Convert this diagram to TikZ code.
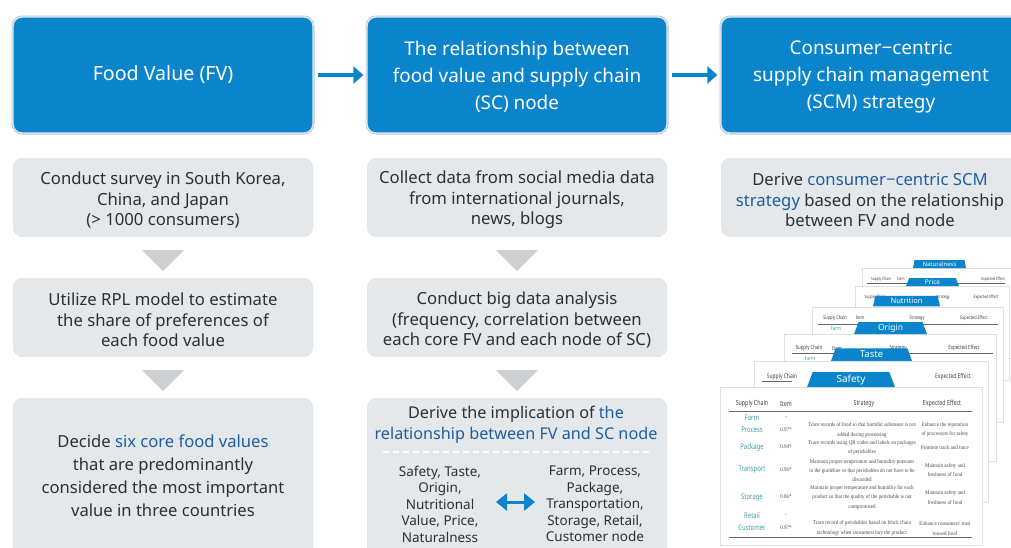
\documentclass[tikz,border=0pt]{standalone}
\usepackage{fontspec}
\setmainfont{Noto Sans}
\newfontfamily\tabserif[FakeStretch=0.88]{Liberation Serif}
\newfontfamily\cond[FakeStretch=0.76]{Noto Sans}
\usetikzlibrary{shapes.geometric,shadows,arrows.meta}
\definecolor{hblue}{HTML}{0A85CB}
\definecolor{hring}{HTML}{DCECF6}
\definecolor{hshade}{HTML}{C4C8CC}
\definecolor{gbox}{HTML}{E4E8EB}
\definecolor{tricol}{HTML}{CDD0D3}
\definecolor{ink}{HTML}{2F2F2F}
\definecolor{lnk}{HTML}{1F5E9E}
\definecolor{teal}{HTML}{3F9CAE}
\newcommand{\hl}[1]{\textcolor{lnk}{#1}}
\tikzset{
  x=1pt,y=-1pt,
  headbox/.style={rectangle,rounded corners=9pt,fill=hblue,draw=hring,line width=1.3pt,
    preaction={draw=hshade,line width=3pt},minimum width=300pt,minimum height=116pt,inner sep=0pt},
  headtext/.style={inner sep=0pt,text=white,align=center,font=\fontsize{18.9}{27}\selectfont},
  graybox/.style={rectangle,rounded corners=9pt,fill=gbox,minimum width=300pt,inner sep=0pt},
  graytext/.style={inner sep=0pt,text=ink,align=center,font=\fontsize{16.7}{20.6}\selectfont},
  flow/.style={draw=hblue,line width=3.4pt,-{Triangle[length=10pt,width=17pt]}},
  twoway/.style={draw=hblue,line width=3pt,{Triangle[length=11pt,width=17pt]}-{Triangle[length=11pt,width=17pt]}},
  tri/.style={fill=tricol},
  small/.style={text=ink,align=center,inner sep=0pt,font=\fontsize{13.5}{16.5}\selectfont},
  card/.style={rectangle,fill=white,draw=black!12,line width=.3pt,inner sep=0pt,
    drop shadow={shadow xshift=1.2pt,shadow yshift=-1.2pt,fill=black,opacity=.6}},
  tabn/.style={trapezium,trapezium left angle=78,trapezium right angle=78,trapezium stretches=true,
    fill=hblue,text=white,inner sep=0pt,outer sep=0pt},
  hdr/.style={inner sep=0pt,text=black!75,font=\cond\fontsize{#1}{#1}\selectfont},
  hdr/.default=7,
  chain/.style={inner sep=0pt,text=teal,font=\cond\fontsize{#1}{#1}\selectfont},
  chain/.default=7.8,
  cell/.style={inner sep=0pt,align=center,text=black!70,font=\tabserif\fontsize{5.7}{9.2}\selectfont},
  rulel/.style={draw=black!60,line width=.35pt},
}
\begin{document}
\begin{tikzpicture}
\clip (0,0) rectangle (1011,547);
\fill[white] (0,0) rectangle (1011,547);

% headers
\node[headbox] (h1) at (163,75) {};
\node[headbox] (h2) at (517,75) {};
\node[headbox] (h3) at (871,75) {};
\node[headtext,font=\fontsize{19.6}{27}\selectfont] (h1t) at (163,75) {Food Value (FV)};
\node[headtext] (h2t) at (517,77) {The relationship between\\food value and supply chain\\(SC) node};
\node[headtext] (h3t) at (871,77) {Consumer−centric\\supply chain management\\(SCM) strategy};
\draw[flow,shorten <=4pt,shorten >=3pt] (h1) -- (h2);
\draw[flow,shorten <=4pt,shorten >=3pt] (h2) -- (h3);

% left column
\node[graybox,minimum height=79pt] (a1) at (163,197.5) {};
\node[graytext] (a1t) at (163,200) {Conduct survey in South Korea,\\China, and Japan\\(> 1000 consumers)};
\node[graybox,minimum height=79pt] (a2) at (163,317.5) {};
\node[graytext] (a2t) at (163,320) {Utilize RPL model to estimate\\the share of preferences of\\each food value};
\node[graybox,minimum height=162pt] (a3) at (163,479) {};
\node[graytext,font=\fontsize{16.6}{23}\selectfont] (a3t) at (163,476) {Decide \hl{six core food values}\\that are predominantly\\considered the most important\\value in three countries};
\fill[tri] (142,250) -- (184,250) -- (163,271) -- cycle;
\fill[tri] (142,370) -- (184,370) -- (163,391) -- cycle;

% middle column
\node[graybox,minimum height=79pt] (b1) at (517,197.5) {};
\node[graytext] (b1t) at (517,200) {Collect data from social media data\\from international journals,\\news, blogs};
\node[graybox,minimum height=79pt] (b2) at (517,317.5) {};
\node[graytext] (b2t) at (517,320) {Conduct big data analysis\\(frequency, correlation between\\each core FV and each node of SC)};
\node[graybox,minimum height=162pt] (b3) at (517,479) {};
\node[graytext,font=\fontsize{16.2}{20.5}\selectfont] (b3t) at (516,424.5) {Derive the implication of \hl{the}\\\hl{relationship between FV and SC node}};
\fill[tri] (496,250) -- (538,250) -- (517,271) -- cycle;
\fill[tri] (496,370) -- (538,370) -- (517,391) -- cycle;
\coordinate (dl) at (383,452);
\coordinate (dr) at (651,452);
\draw[white,line width=1.2pt,dash pattern=on 6pt off 4pt] (dl) -- (dr);
\node[small] (fv) at (440,504) {Safety, Taste,\\Origin,\\Nutritional\\Value, Price,\\Naturalness};
\node[small] (sc) at (595,504) {Farm, Process,\\Package,\\Transportation,\\Storage, Retail,\\Customer node};
\coordinate (ta) at (496,502); \coordinate (tb) at (535,502);
\draw[twoway] (ta) -- (tb);

% right column
\node[graybox,minimum height=79pt] (c1) at (871,197.5) {};
\node[graytext] (c1t) at (870,200) {Derive \hl{consumer−centric SCM}\\\hl{strategy} based on the relationship\\between FV and node};

% cards, back to front
\node[card,minimum width=160pt,minimum height=90pt] (k6) at (942,313) {};
\node[tabn,minimum width=53pt,minimum height=8pt,font=\fontsize{6}{6}\selectfont] (t6) at (939.5,264) {Naturalness};
\node[hdr=4.3] (k6a) at (881,279) {Supply Chain};
\node[hdr=4.3] (k6b) at (901,279) {Item};
\node[hdr=4.3] (k6c) at (993,279) {Expected Effect};
\coordinate (k6l) at (867,283); \coordinate (k6r) at (1005,283);
\draw[rulel] (k6l) -- (k6r);

\node[card,minimum width=154pt,minimum height=94pt] (k5) at (932,333) {};
\node[tabn,minimum width=53pt,minimum height=8pt,font=\fontsize{6.5}{6.5}\selectfont] (t5) at (932.5,282) {Price};
\node[hdr=4.5] (k5a) at (875,297) {Supply Chain};
\node[hdr=4.5] (k5b) at (943,297) {Strategy};
\node[hdr=4.5] (k5c) at (986,297) {Expected Effect};

\node[card,minimum width=191pt,minimum height=115pt] (k4) at (907.5,364.5) {};
\node[tabn,minimum width=67pt,minimum height=10.5pt,font=\fontsize{7.5}{7.5}\selectfont] (t4) at (906.5,301) {Nutrition};
\node[hdr=5] (k4a) at (835,318) {Supply Chain};
\node[hdr=5] (k4b) at (860,318) {Item};
\node[hdr=5] (k4c) at (917,318) {Strategy};
\node[hdr=5] (k4d) at (974,318) {Expected Effect};
\coordinate (k4l) at (818,324); \coordinate (k4r) at (998,324);
\draw[rulel] (k4l) -- (k4r);
\node[chain=5.5] (k4e) at (836,329) {Farm};

\node[card,minimum width=212pt,minimum height=127pt] (k3) at (890,397.5) {};
\node[tabn,minimum width=73pt,minimum height=12pt,font=\fontsize{8.5}{8.5}\selectfont] (t3) at (890.5,328) {Origin};
\node[hdr=5.7] (k3a) at (809,348) {Supply Chain};
\node[hdr=5.7] (k3b) at (837,348) {Item};
\node[hdr=5.7] (k3c) at (898,348) {Strategy};
\node[hdr=5.7] (k3d) at (964,348) {Expected Effect};
\coordinate (k3l) at (792,353); \coordinate (k3r) at (993,353);
\draw[rulel] (k3l) -- (k3r);
\node[chain=5.5] (k3e) at (810,359) {Farm};

\node[card,minimum width=234pt,minimum height=141pt] (k2) at (871,431.5) {};
\node[tabn,minimum width=81pt,minimum height=12.5pt,font=\fontsize{9.5}{9.5}\selectfont] (t2) at (871.5,354.5) {Taste};
\node[hdr=6.5] (k2a) at (782,377) {Supply Chain};
\node[hdr=6.5] (k2b) at (953,377) {Expected Effect};
\coordinate (k2l) at (762,381); \coordinate (k2r) at (792,381);
\draw[rulel] (k2l) -- (k2r);

\node[card,minimum width=262pt,minimum height=158pt] (k1) at (851,466) {};
\node[tabn,minimum width=88pt,minimum height=15pt,font=\fontsize{10}{10}\selectfont] (t1) at (851,379.5) {Safety};
\node[hdr] (r0a) at (752,404) {Supply Chain};
\node[hdr] (r0b) at (786,404) {Item};
\node[hdr] (r0c) at (864,404) {Strategy};
\node[hdr] (r0d) at (942,404) {Expected Effect};
\coordinate (k1l) at (729,411); \coordinate (k1r) at (972,411);
\draw[rulel] (k1l) -- (k1r);
\coordinate (k1bl) at (729,537); \coordinate (k1br) at (972,537);
\draw[rulel,line width=.6pt] (k1bl) -- (k1br);
\node[chain] (r1) at (752,418) {Farm};
\node[chain] (r2) at (752,430) {Process};
\node[chain] (r3) at (752,447) {Package};
\node[chain] (r4) at (752,470) {Transport};
\node[chain] (r5) at (752,498) {Storage};
\node[chain] (r6) at (752,516) {Retail};
\node[chain] (r7) at (752,528) {Customer};
\node[cell] (i1) at (786,418) {-};
\node[cell] (i2) at (786,430) {0.97*};
\node[cell] (i3) at (786,447) {0.94*};
\node[cell] (i4) at (786,470) {0.96*};
\node[cell] (i5) at (786,497) {0.86*};
\node[cell] (i6) at (786,516) {-};
\node[cell] (i7) at (786,528) {0.97*};
\node[cell] (s1) at (862,430) {Trace records of food so that harmful substance is not\\added during processing};
\node[cell] (s2) at (862,448) {Trace records using QR codes and labels on packages\\of perishables};
\node[cell] (s3) at (862,470.5) {Maintain proper temperature and humidity pursuant\\to the guideline so that perishables do not have to be\\discarded};
\node[cell] (s4) at (862,497.5) {Maintain proper temperature and humidity for each\\product so that the quality of the perishable is not\\compromised};
\node[cell] (s5) at (862,528) {Trace record of perishables based on block chain\\technology when consumers buy the product};
\node[cell] (e1) at (945,430) {Enhance the reputation\\of processors for safety};
\node[cell] (e2) at (945,448) {Promote track and trace};
\node[cell] (e3) at (945,470) {Maintain safety and\\freshness of food};
\node[cell] (e4) at (945,497.5) {Maintain safety and\\freshness of food};
\node[cell] (e5) at (945,528.5) {Enhance consumers' trust\\toward food};
\end{tikzpicture}
\end{document}
